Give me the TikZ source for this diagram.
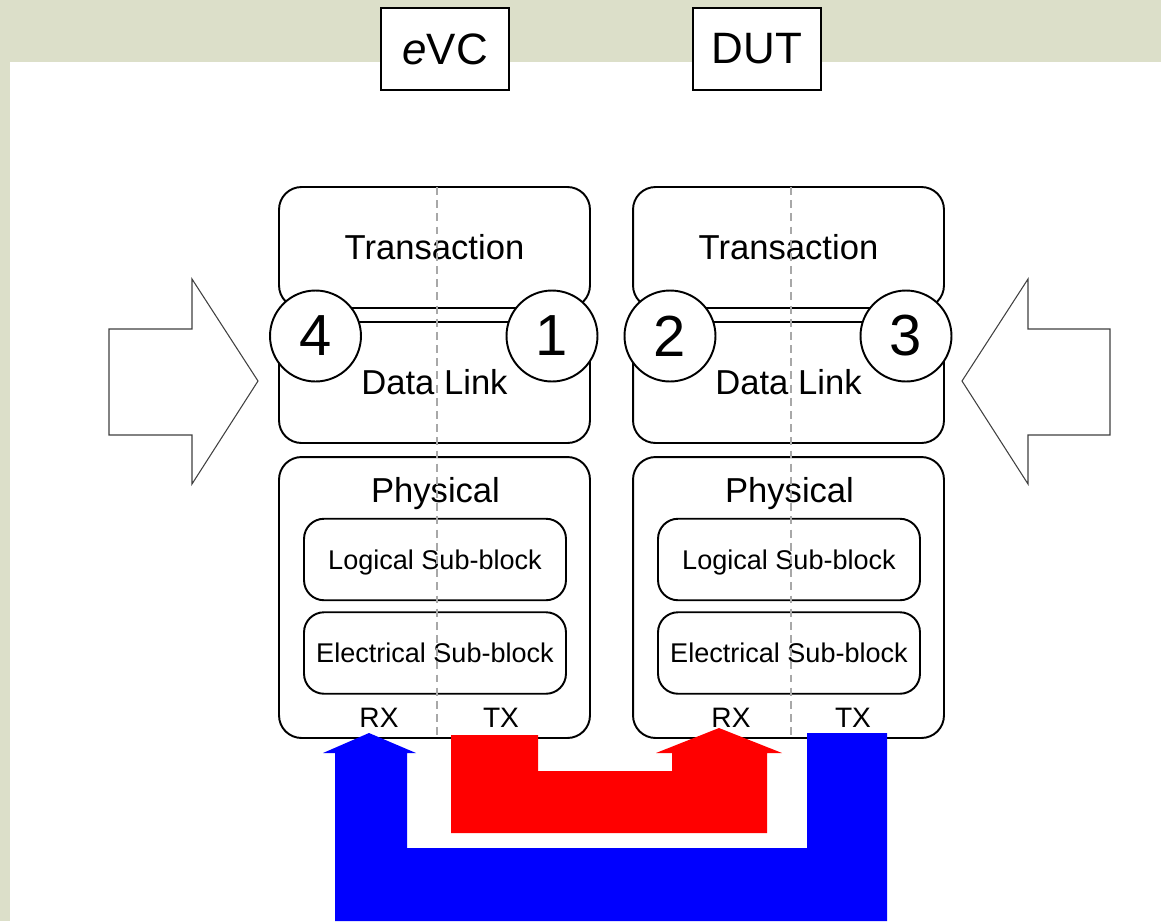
\documentclass[tikz,border=0pt]{standalone}
\usepackage{fontspec}
\setmainfont{Liberation Sans}
\usetikzlibrary{positioning}

\definecolor{slidebg}{RGB}{220,223,201}
\definecolor{dashgrey}{RGB}{168,168,168}

\tikzset{
    layer/.style={draw, line width=1.1pt, rounded corners=0.45cm, minimum width=6.22cm, minimum height=2.42cm, font=\fontsize{19.7}{22}\selectfont},
    physbox/.style={draw, line width=1.1pt, rounded corners=0.45cm, minimum width=6.22cm, minimum height=5.62cm},
    subblock/.style={draw, line width=1.1pt, rounded corners=0.4cm, minimum width=5.24cm, minimum height=1.63cm, text depth=0pt, font=\fontsize{15.4}{18}\selectfont},
    probe/.style={circle, draw, fill=white, line width=1.1pt, minimum size=1.82cm, inner sep=0pt, font=\fontsize{33}{36}\selectfont},
    titlebox/.style={draw, fill=white, line width=0.8pt, minimum width=2.56cm, minimum height=1.64cm, font=\fontsize{25}{28}\selectfont},
    port/.style={anchor=base, font=\fontsize{16}{18}\selectfont},
    bigarrow/.style={draw=black!75, line width=0.6pt, fill=white},
    divider/.style={dashgrey, line width=1pt, dash pattern=on 4.5pt off 3pt}
}

\begin{document}
\begin{tikzpicture}[x=0.02cm, y=-0.02cm]
    % slide background
    \fill[slidebg] (0,0) rectangle (1161,921);
    \fill[white] (10,62) rectangle (1161,921);

    % titles
    \node[titlebox] (evc) at (445,49) {\textit{e}VC};
    \node[titlebox] (dut) at (757,49) {DUT};

    % the two layer stacks
    \foreach \s/\cx in {evc/434.5, dut/788.5} {
        \node[layer] (\s trans) at (\cx,247.5) {\raisebox{-1pt}{Transaction}};
        \node[layer] (\s link) at (\cx,382.5) {Data Link};
        \node[physbox] (\s phy) at (\cx,597.5) {};
        \node[anchor=base, font=\fontsize{19.7}{22}\selectfont] (\s phytext) at (\cx+1,502) {Physical};
        \node[subblock] (\s logic) at (\cx+0.5,559.5) {Logical Sub-block};
        \node[subblock] (\s elec) at (\cx+0.5,653) {Electrical Sub-block};
        \draw[divider] (\cx+2.5,187) -- (\cx+2.5,738);
    }

    % RX / TX ports
    \node[port] (evcrx) at (379,727) {RX};
    \node[port] (evctx) at (501,727) {TX};
    \node[port] (dutrx) at (731,727) {RX};
    \node[port] (duttx) at (853,727) {TX};

    % probe points
    \node[probe] (p4) at (315.5,336) {4};
    \node[probe] (p1) at (552,336) {1};
    \node[probe] (p2) at (670,336) {2};
    \node[probe] (p3) at (906,336) {3};

    % side arrows
    \draw[bigarrow] (109,329) -- (192,329) -- (192,279) -- (258,381) -- (192,484) -- (192,435) -- (109,435) -- cycle;
    \draw[bigarrow] (1110,329) -- (1028,329) -- (1028,279) -- (962,381) -- (1028,484) -- (1028,435) -- (1110,435) -- cycle;

    % eVC TX -> DUT RX
    \fill[red] (451,735) -- (538,735) -- (538,771) -- (672,771) -- (672,753) -- (656,753)
        -- (719,728) -- (782,753) -- (767,753) -- (767,833) -- (451,833) -- cycle;
    % DUT TX -> eVC RX
    \fill[blue] (887,733) -- (887,921) -- (335,921) -- (335,753) -- (323,753) -- (369,733)
        -- (416,753) -- (407,753) -- (407,848) -- (807,848) -- (807,733) -- cycle;
\end{tikzpicture}
\end{document}
